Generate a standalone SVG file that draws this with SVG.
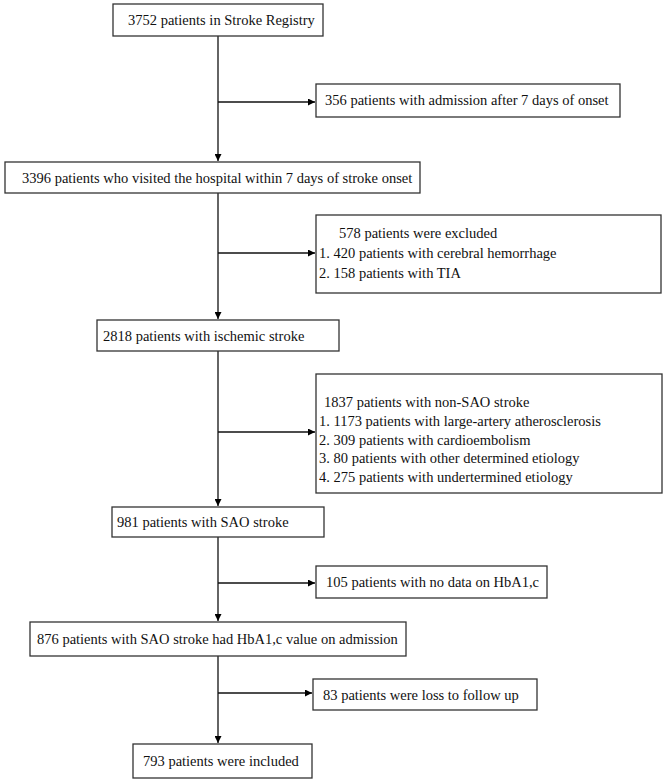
<svg xmlns="http://www.w3.org/2000/svg" width="666" height="782" viewBox="0 0 666 782">
<defs>
<marker id="ah" viewBox="0 0 10 10" refX="10" refY="5" markerWidth="7" markerHeight="7" markerUnits="userSpaceOnUse" orient="auto">
<path d="M0,0 L10,5 L0,10 z" fill="#000"/>
</marker>
<style>
.box{fill:#fff;stroke:#333;stroke-width:1.3}
.t{font-size:14.5px;fill:#111}
.c{stroke:#111;stroke-width:1.3;fill:none}
</style>
</defs>
<rect width="666" height="782" fill="#fff"/>
<g id="connectors">
<path class="c" d="M218,36 V161" marker-end="url(#ah)"/>
<path class="c" d="M218,102 H315" marker-end="url(#ah)"/>
<path class="c" d="M218,193 V319" marker-end="url(#ah)"/>
<path class="c" d="M218,253 H315" marker-end="url(#ah)"/>
<path class="c" d="M218,351 V506" marker-end="url(#ah)"/>
<path class="c" d="M218,432 H315" marker-end="url(#ah)"/>
<path class="c" d="M218,537 V621" marker-end="url(#ah)"/>
<path class="c" d="M218,583 H315" marker-end="url(#ah)"/>
<path class="c" d="M218,656 V743" marker-end="url(#ah)"/>
<path class="c" d="M218,693 H312" marker-end="url(#ah)"/>
</g>
<g font-family="'Liberation Serif', 'DejaVu Serif', 'Times New Roman', serif">
<g id="n1"><rect class="box" x="113" y="4" width="210" height="32"/><text class="t" x="128" y="25">3752 patients in Stroke Registry</text></g>
<g id="n2"><rect class="box" x="316" y="84" width="304" height="33"/><text class="t" x="325" y="105">356 patients with admission after 7 days of onset</text></g>
<g id="n3"><rect class="box" x="5" y="162" width="415" height="31"/><text class="t" x="22" y="183">3396 patients who visited the hospital within 7 days of stroke onset</text></g>
<g id="n4"><rect class="box" x="316" y="215" width="345" height="78"/>
<text class="t" x="339" y="238">578 patients were excluded</text>
<text class="t" x="319" y="258">1. 420 patients with cerebral hemorrhage</text>
<text class="t" x="319" y="278">2. 158 patients with TIA</text></g>
<g id="n5"><rect class="box" x="97" y="320" width="242" height="31"/><text class="t" x="103" y="341">2818 patients with ischemic stroke</text></g>
<g id="n6"><rect class="box" x="316" y="374" width="346" height="119"/>
<text class="t" x="324" y="407">1837 patients with non-SAO stroke</text>
<text class="t" x="319" y="426">1. 1173 patients with large-artery atherosclerosis</text>
<text class="t" x="319" y="445">2. 309 patients with cardioembolism</text>
<text class="t" x="319" y="463">3. 80 patients with other determined etiology</text>
<text class="t" x="319" y="482">4. 275 patients with undertermined etiology</text></g>
<g id="n7"><rect class="box" x="112" y="507" width="212" height="30"/><text class="t" x="117" y="527">981 patients with SAO stroke</text></g>
<g id="n8"><rect class="box" x="316" y="566" width="231" height="32"/><text class="t" x="326" y="587">105 patients with no data on HbA1,c</text></g>
<g id="n9"><rect class="box" x="30" y="622" width="376" height="34"/><text class="t" x="37" y="644">876 patients with SAO stroke had HbA1,c value on admission</text></g>
<g id="n10"><rect class="box" x="313" y="679" width="224" height="31"/><text class="t" x="323" y="700">83 patients were loss to follow up</text></g>
<g id="n11"><rect class="box" x="133" y="744" width="179" height="34"/><text class="t" x="143" y="766">793 patients were included</text></g>
</g>
</svg>
